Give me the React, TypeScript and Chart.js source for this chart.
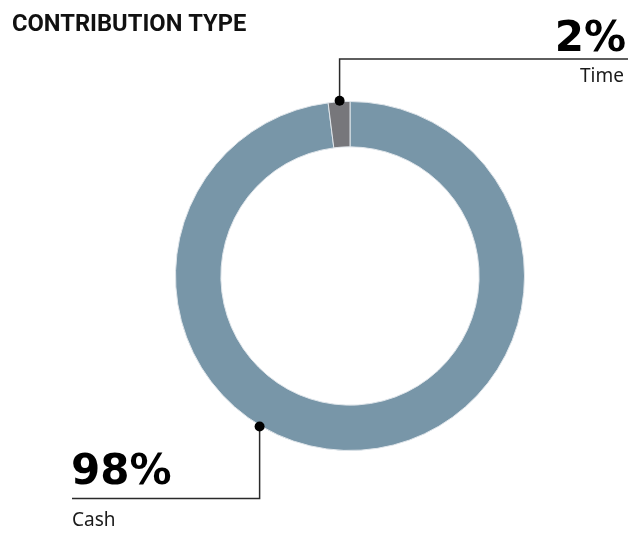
import React, { useEffect, useRef } from "react";
import { Chart, registerables } from "chart.js";

Chart.register(...registerables);

const categories = ["Cash", "Time"];
const values = [98, 2];
const colors = ["#7896A8", "#77777B"];
const valueLabels = ["98%", "2%"];
// angle (deg, clockwise from 12 o'clock) where each callout dot sits on the ring
const calloutAngles = [211, 356.6];

const TITLE = "CONTRIBUTION TYPE";

const W = 635;
const H = 534;

const calloutPlugin = {
  id: "callouts",
  afterDraw(chart: any) {
    const ctx = chart.ctx as CanvasRenderingContext2D;
    const meta = chart.getDatasetMeta(0);
    const arc0 = meta.data[0] as any;
    const cx = arc0.x;
    const cy = arc0.y;
    const r = arc0.outerRadius + 1;
    ctx.save();
    // title
    ctx.fillStyle = "#111";
    ctx.textBaseline = "alphabetic";
    ctx.textAlign = "left";
    ctx.font = "bold 23.7px Roboto";
    ctx.fillText(TITLE, 12, 31);

    const dotFor = (i: number) => {
      const a = (calloutAngles[i] * Math.PI) / 180;
      return { x: cx + r * Math.sin(a), y: cy - r * Math.cos(a) };
    };

    ctx.strokeStyle = "#2a2a2a";
    ctx.lineWidth = 1.5;

    // Time (index 1) callout: up then right
    const dT = dotFor(1);
    const yT = 59;
    const xTEnd = 628;
    ctx.beginPath();
    ctx.moveTo(dT.x, dT.y);
    ctx.lineTo(dT.x, yT);
    ctx.lineTo(xTEnd, yT);
    ctx.stroke();
    ctx.fillStyle = "#000";
    ctx.beginPath();
    ctx.arc(dT.x, dT.y, 5, 0, Math.PI * 2);
    ctx.fill();
    ctx.textAlign = "right";
    ctx.font = "bold 42px 'DejaVu Sans'";
    ctx.fillText(valueLabels[1], 626, 51);
    ctx.font = "400 19px 'Noto Sans'";
    ctx.fillStyle = "#1a1a1a";
    ctx.fillText(categories[1], 624, 82);

    // Cash (index 0) callout: down then left
    const dC = dotFor(0);
    const yC = 498.5;
    const xCEnd = 72;
    ctx.beginPath();
    ctx.moveTo(dC.x, dC.y);
    ctx.lineTo(dC.x, yC);
    ctx.lineTo(xCEnd, yC);
    ctx.stroke();
    ctx.fillStyle = "#000";
    ctx.beginPath();
    ctx.arc(dC.x, dC.y, 5, 0, Math.PI * 2);
    ctx.fill();
    ctx.textAlign = "left";
    ctx.font = "bold 42px 'DejaVu Sans'";
    ctx.fillText(valueLabels[0], 71, 484);
    ctx.font = "400 19px 'Noto Sans'";
    ctx.fillStyle = "#1a1a1a";
    ctx.fillText(categories[0], 72, 526);
    ctx.restore();
  },
};

export default function App() {
  const ref = useRef<HTMLCanvasElement | null>(null);
  useEffect(() => {
    document.body.style.margin = "0";
    if (!ref.current) return;
    const chart = new Chart(ref.current, {
      type: "doughnut",
      data: {
        labels: categories,
        datasets: [
          {
            data: values,
            backgroundColor: colors,
            borderColor: "#dfe5ea",
            borderWidth: 1,
          },
        ],
      },
      options: {
        responsive: false,
        animation: false,
        cutout: "74%",
        layout: { padding: { left: 175, right: 110, top: 101, bottom: 83 } },
        plugins: {
          legend: { display: false },
          tooltip: { enabled: false },
          title: { display: false },
        },
      },
      plugins: [calloutPlugin],
    });
    return () => chart.destroy();
  }, []);
  return (
    <div style={{ position: "absolute", left: 0, top: 0, width: W, height: H, background: "#fff" }}>
      <canvas ref={ref} width={W} height={H} style={{ width: W, height: H, display: "block" }} />
    </div>
  );
}
